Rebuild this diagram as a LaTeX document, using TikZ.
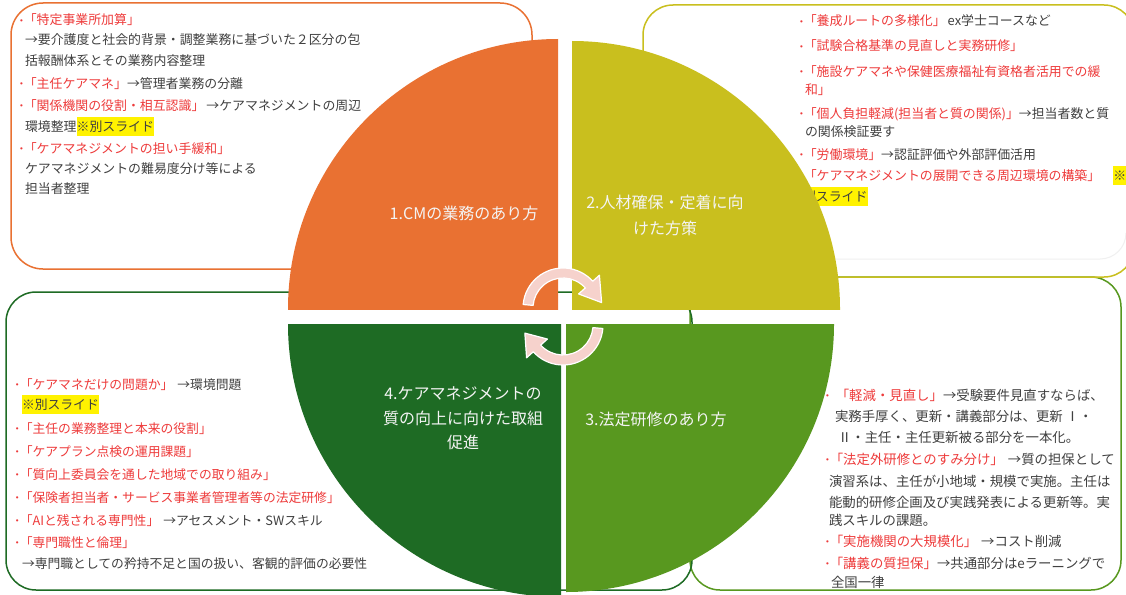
\documentclass[tikz,border=0pt]{standalone}
\usepackage{fontspec}
\newfontfamily\jp{Noto Sans CJK JP}
\newfontfamily\latb{Liberation Sans}
\usetikzlibrary{calc}
\definecolor{cOr}{HTML}{E97132}
\definecolor{cOl}{HTML}{C9BF1E}
\definecolor{cDg}{HTML}{1E6B24}
\definecolor{cLg}{HTML}{58981F}
\definecolor{cRed}{HTML}{EE3B3B}
\definecolor{cTx}{HTML}{404040}
\definecolor{cArr}{HTML}{F6D2CC}
\definecolor{cLab}{HTML}{F4F4F4}
\newcommand\rt[1]{{\color{cRed}#1}}
\newcommand\bu{{\color{cRed}\raisebox{1.8pt}{\latb\fontsize{8}{8}\selectfont •}}\hspace{1pt}}
\newcommand\hlt[1]{{\setlength\fboxsep{0pt}\colorbox{yellow}{\rule[-4.5pt]{0pt}{19pt}#1}}}
\begin{document}
\begin{tikzpicture}[x=1pt,y=-1pt,
  txt/.style={anchor=base west,inner sep=0pt,outer sep=0pt,text=cTx,font=\jp\fontsize{12.9}{13}\selectfont},
  txtb/.style={txt,font=\jp\fontsize{12.8}{13}\selectfont},
  txtc/.style={txt,font=\jp\fontsize{13.4}{14}\selectfont},
  lab/.style={anchor=base,inner sep=0pt,text=cLab,font=\jp\fontsize{16}{17}\selectfont},
  boxline/.style={line width=1.5pt,rounded corners=30pt},
  arr/.style={fill=cArr,draw=white,line width=1.2pt,line join=round}]
\fill[white] (0,0) rectangle (1126,594);
\useasboundingbox (0,0) rectangle (1126,594);
% text boxes (outlines)
\draw[boxline,draw=cLg] (690,277) rectangle (1121,590);
\draw[boxline,draw=cDg] (6,292) rectangle (692,590);
\draw[line width=1pt,draw=gray!12] (835,259) -- (1100,259) arc[start angle=-90,end angle=0,radius=26pt];
\draw[boxline,draw=cOl] (643,5) rectangle (1134,277);
\draw[boxline,rounded corners=32pt,draw=cOr] (11,3) rectangle (532,269);
% top-left texts
\node[txt] (a1) at (20,25) {\bu\rt{「特定事業所加算」}};
\node[txt] (a2) at (25,45) {→要介護度と社会的背景・調整業務に基づいた２区分の包};
\node[txt] (a3) at (25,66) {括報酬体系とその業務内容整理};
\node[txt] (a4) at (20,88) {\bu\rt{「主任ケアマネ」}→管理者業務の分離};
\node[txt] (a5) at (20,110) {\bu\rt{「関係機関の役割・相互認識」}\hspace{2pt}→ケアマネジメントの周辺};
\node[txt] (a6) at (25,131) {環境整理\hlt{※別スライド}};
\node[txt] (a7) at (20,153) {\bu\rt{「ケアマネジメントの担い手緩和」}};
\node[txt] (a8) at (25,173) {ケアマネジメントの難易度分け等による};
\node[txt] (a9) at (25,193) {担当者整理};
% top-right texts
\node[txt] (b1) at (800,26) {\bu\rt{「養成ルートの多様化」}\hspace{2pt}ex学士コースなど};
\node[txt] (b2) at (800,51) {\bu\rt{「試験合格基準の見直しと実務研修」}};
\node[txt] (b3) at (800,76) {\bu\rt{「施設ケアマネや保健医療福祉有資格者活用での緩}};
\node[txt] (b4) at (805,94) {\rt{和」}};
\node[txt] (b5) at (800,118) {\bu\rt{「個人負担軽減(担当者と質の関係)」}→担当者数と質};
\node[txt] (b6) at (805,136) {の関係検証要す};
\node[txt] (b7) at (800,159) {\bu\rt{「労働環境」}→認証評価や外部評価活用};
\node[txt] (b8) at (800,180) {\bu\rt{「ケアマネジメントの展開できる周辺環境の構築」}\hspace{13pt}\hlt{※}};
\node[txt] (b9) at (803,201) {\hlt{別スライド}};
% bottom-left texts
\node[txtb] (c1) at (16,389) {\bu\rt{「ケアマネだけの問題か」}\hspace{4pt}→環境問題};
\node[txtb] (c2) at (22,409) {\hlt{※別スライド}};
\node[txtb] (c3) at (16,433) {\bu\rt{「主任の業務整理と本来の役割」}};
\node[txtb] (c4) at (16,456) {\bu\rt{「ケアプラン点検の運用課題」}};
\node[txtb] (c5) at (16,479) {\bu\rt{「質向上委員会を通した地域での取り組み」}};
\node[txtb] (c6) at (16,502) {\bu\rt{「保険者担当者・サービス事業者管理者等の法定研修」}};
\node[txtb] (c7) at (16,525) {\bu\rt{「AIと残される専門性」}\hspace{4pt}→アセスメント・SWスキル};
\node[txtb] (c8) at (16,547) {\bu\rt{「専門職性と倫理」}};
\node[txtb] (c9) at (22,568) {→専門職としての矜持不足と国の扱い、客観的評価の必要性};
% bottom-right texts
\node[txtc] (d1) at (826,400) {\bu\hspace{6pt}\rt{「軽減・見直し」}→受験要件見直すならば、};
\node[txtc] (d2) at (835,421) {実務手厚く、更新・講義部分は、更新 Ⅰ・};
\node[txtc] (d3) at (838,442) {Ⅱ・主任・主任更新被る部分を一本化。};
\node[txtc] (d4) at (826,464) {\bu\rt{「法定外研修とのすみ分け」}\hspace{4pt}→質の担保として};
\node[txtc] (d5) at (829,486) {演習系は、主任が小地域・規模で実施。主任は};
\node[txtc] (d6) at (829,507) {能動的研修企画及び実践発表による更新等。実};
\node[txtc] (d7) at (829,525) {践スキルの課題。};
\node[txtc] (d8) at (826,546) {\bu\rt{「実施機関の大規模化」}\hspace{4pt}→コスト削減};
\node[txtc] (d9) at (826,568) {\bu\rt{「講義の質担保」}→共通部分はeラーニングで};
\node[txtc] (d10) at (831,587) {全国一律};
% quarter pies
\begin{scope}\clip (288,39) rectangle (558,309);
\fill[cOr] (558,309) circle[radius=270pt];\end{scope}
\begin{scope}\clip (572,41) rectangle (840,309);
\fill[cOl] (572,309) circle[radius=268pt];\end{scope}
\begin{scope}\clip (288,324) rectangle (561,594);
\fill[cDg] (561,324) circle[radius=273pt];\end{scope}
\begin{scope}\clip (566,324) rectangle (834,594);
\fill[cLg] (566,324) circle[radius=268pt];\end{scope}
% labels
\node[lab] (q1) at (464,219) {1.CMの業務のあり方};
\node[lab] (q2a) at (665,208) {2.人材確保・定着に向};
\node[lab] (q2b) at (665,234) {けた方策};
\node[lab] (q4a) at (463,399) {4.ケアマネジメントの};
\node[lab] (q4b) at (463,424) {質の向上に向けた取組};
\node[lab] (q4c) at (463,448) {促進};
\node[lab] (q3) at (656,425) {3.法定研修のあり方};
% cycle arrows
\coordinate (T) at (563,308);
\coordinate (B) at (563,325);
\draw[arr] ($(T)+(175:30pt)$) -- ($(T)+(175:40pt)$) arc[start angle=175,end angle=42,radius=40pt]
  -- ($(T)+(42:49pt)$) -- ($(T)+(8:39pt)$) -- ($(T)+(42:21pt)$) -- ($(T)+(42:30pt)$)
  arc[start angle=42,end angle=175,radius=30pt] -- cycle;
\draw[arr] ($(B)+(-5:30pt)$) -- ($(B)+(-5:40pt)$) arc[start angle=-5,end angle=-138,radius=40pt]
  -- ($(B)+(-138:49pt)$) -- ($(B)+(-168:39pt)$) -- ($(B)+(-138:21pt)$) -- ($(B)+(-138:30pt)$)
  arc[start angle=-138,end angle=-5,radius=30pt] -- cycle;
\end{tikzpicture}
\end{document}
